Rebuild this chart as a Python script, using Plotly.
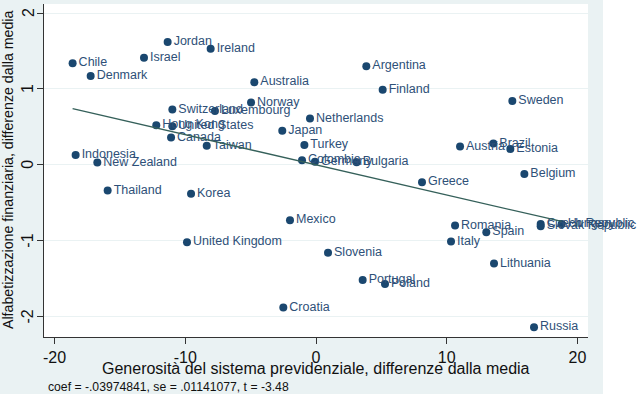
import plotly.graph_objects as go

countries = ["Jordan", "Ireland", "Israel", "Chile", "Denmark", "Australia", "Argentina",
             "Finland", "Sweden", "Norway", "Switzerland", "Luxembourg", "Netherlands",
             "Hong Kong", "United States", "Japan", "Canada", "Taiwan", "Turkey", "Austria",
             "Brazil", "Estonia", "Indonesia", "New Zealand", "Colombia", "Germany",
             "Bulgaria", "Belgium", "Greece", "Thailand", "Korea", "Mexico", "Romania",
             "Spain", "Czech Republic", "Slovak Republic", "Hungary", "Italy",
             "United Kingdom", "Slovenia", "Lithuania", "Portugal", "Poland", "Croatia",
             "Russia"]
generosity = [-11.35, -8.06, -13.16, -18.62, -17.24, -4.72, 3.85,
              5.10, 15.02, -4.97, -10.99, -7.73, -0.46,
              -12.22, -10.99, -2.58, -11.09, -8.36, -0.89, 11.02,
              13.57, 14.87, -18.39, -16.73, -1.07, -0.08,
              3.11, 15.94, 8.11, -15.94, -9.56, -1.99, 10.64,
              13.03, 17.19, 17.19, 18.80, 10.33,
              -9.87, 0.92, 13.62, 3.57, 5.28, -2.50,
              16.68]
literacy = [1.62, 1.53, 1.41, 1.34, 1.17, 1.09, 1.30,
            0.99, 0.84, 0.82, 0.73, 0.71, 0.61,
            0.52, 0.51, 0.45, 0.36, 0.25, 0.26, 0.24,
            0.28, 0.21, 0.13, 0.03, 0.06, 0.04,
            0.035, -0.12, -0.23, -0.34, -0.38, -0.73, -0.80,
            -0.89, -0.78, -0.81, -0.78, -1.01,
            -1.02, -1.16, -1.30, -1.52, -1.57, -1.88,
            -2.14]

coef = -0.03974841
intercept = 0.0
x_ticks = [-20, -10, 0, 10, 20]
y_ticks = [-2, -1, 0, 1, 2]
x_title = "Generosità del sistema previdenziale, differenze dalla media"
y_title = "Alfabetizzazione finanziaria, differenze dalla media"
note = "coef = -.03974841, se = .01141077, t = -3.48"

NAVY = "#1a476f"
FONT = "Liberation Sans, Arial, sans-serif"

fit_x = [min(generosity), max(generosity)]
fit_y = [intercept + coef * v for v in fit_x]

fig = go.Figure()
fig.add_trace(go.Scatter(
    x=generosity, y=literacy, mode="markers+text", text=countries,
    textposition="middle right",
    textfont=dict(family=FONT, size=12.5, color="#2e5078"),
    marker=dict(size=8, color=NAVY),
    cliponaxis=False, showlegend=False, hoverinfo="skip"))
fig.add_trace(go.Scatter(
    x=fit_x, y=fit_y, mode="lines",
    line=dict(color="#35605a", width=1.3),
    showlegend=False, hoverinfo="skip"))

W, H = 638, 394
L, R, T, B = 44, 50, 4, 57
pw = W - L - R
ph = H - T - B

def px_x(p):
    return (p - L) / pw

def px_y(p):
    return (H - B - p) / ph

annotations = [
    dict(text=x_title, xref="paper", yref="paper", x=px_x(316), y=px_y(368),
         xanchor="center", yanchor="middle", showarrow=False,
         font=dict(family=FONT, size=16, color="#111111")),
    dict(text=y_title, xref="paper", yref="paper", x=px_x(8), y=px_y(170),
         xanchor="center", yanchor="middle", showarrow=False, textangle=-90,
         font=dict(family=FONT, size=14.2, color="#111111")),
    dict(text=note, xref="paper", yref="paper", x=px_x(46), y=px_y(387),
         xanchor="left", yanchor="middle", showarrow=False,
         font=dict(family=FONT, size=12.2, color="#111111")),
]
# y tick labels (rotated, as in the original) placed on the y scale
for v in y_ticks:
    annotations.append(dict(text=str(v), xref="paper", yref="y", x=px_x(28), y=v,
                            xanchor="center", yanchor="middle", showarrow=False,
                            textangle=-90,
                            font=dict(family=FONT, size=16, color="#111111")))

fig.update_layout(
    width=W, height=H,
    margin=dict(l=L, r=R, t=T, b=B),
    paper_bgcolor="#eaf2f3",
    plot_bgcolor="white",
    font=dict(family=FONT, color="#111111"),
    shapes=[dict(type="rect", xref="paper", yref="paper",
                 x0=px_x(603), x1=px_x(640), y0=px_y(396), y1=px_y(-2),
                 fillcolor="white", line=dict(width=0), layer="below")],
    annotations=annotations,
)
fig.update_xaxes(
    range=[-20.81, 20.81], tickvals=x_ticks, ticktext=[str(v) for v in x_ticks],
    showgrid=False, zeroline=False, showline=True, linecolor="#333333", linewidth=1,
    ticks="outside", ticklen=6, tickcolor="#333333",
    tickfont=dict(family=FONT, size=16, color="#111111"))
fig.update_yaxes(
    range=[-2.27, 2.12], tickvals=y_ticks, showticklabels=False,
    showgrid=True, gridcolor="#eaf2f3", gridwidth=1.2, zeroline=False,
    showline=True, linecolor="#333333", linewidth=1,
    ticks="outside", ticklen=6, tickcolor="#333333")

fig.write_html("out.html", config={"displayModeBar": False},
               post_script="document.body.style.margin='0';document.body.style.background='white';")
